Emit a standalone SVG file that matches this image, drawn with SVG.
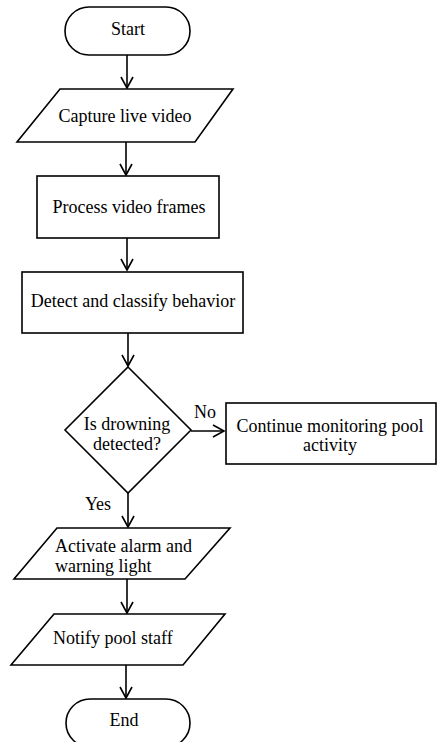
<svg xmlns="http://www.w3.org/2000/svg" width="437" height="742" viewBox="0 0 437 742">
  <style>
    .shape { fill: #ffffff; stroke: #000000; stroke-width: 1.6; }
    .edge { fill: none; stroke: #000000; stroke-width: 1.6; }
    .lbl { font-family: 'Liberation Serif', 'Times New Roman', 'DejaVu Serif', serif; font-size: 18px; fill: #000000; }
    .mid { text-anchor: middle; }
  </style>
  <defs>
    <marker id="arrow" viewBox="0 0 14 14" refX="12" refY="7" markerWidth="14" markerHeight="14" markerUnits="userSpaceOnUse" orient="auto">
      <path d="M1,1 L12,7 L1,13" fill="none" stroke="#000000" stroke-width="1.6"/>
    </marker>
  </defs>
  <rect width="437" height="742" fill="#ffffff"/>

  <g id="connectors">
    <line class="edge" x1="127" y1="55" x2="127" y2="88" marker-end="url(#arrow)"/>
    <line class="edge" x1="126" y1="142" x2="126" y2="175" marker-end="url(#arrow)"/>
    <line class="edge" x1="127" y1="238" x2="127" y2="270" marker-end="url(#arrow)"/>
    <line class="edge" x1="128" y1="333" x2="128" y2="366" marker-end="url(#arrow)"/>
    <line class="edge" x1="191" y1="431" x2="224" y2="431" marker-end="url(#arrow)"/>
    <line class="edge" x1="128" y1="493" x2="128" y2="527" marker-end="url(#arrow)"/>
    <line class="edge" x1="127" y1="579" x2="127" y2="613" marker-end="url(#arrow)"/>
    <line class="edge" x1="126" y1="665" x2="126" y2="698" marker-end="url(#arrow)"/>
    <text class="lbl mid" x="205" y="418">No</text>
    <text class="lbl mid" x="98" y="510">Yes</text>
  </g>

  <g id="start">
    <rect class="shape" x="65" y="7" width="125" height="48" rx="24" ry="24"/>
    <text class="lbl mid" x="128" y="35">Start</text>
  </g>

  <g id="capture">
    <polygon class="shape" points="60,89 233,89 195,142 17,142"/>
    <text class="lbl mid" x="125" y="122">Capture live video</text>
  </g>

  <g id="process">
    <rect class="shape" x="37" y="176" width="182" height="62"/>
    <text class="lbl mid" x="129" y="213">Process video frames</text>
  </g>

  <g id="detect">
    <rect class="shape" x="22" y="272" width="221" height="61"/>
    <text class="lbl mid" x="133" y="307">Detect and classify behavior</text>
  </g>

  <g id="decision">
    <polygon class="shape" points="128,367 191,430 128,493 65,430"/>
    <text class="lbl mid" x="127" y="430">Is drowning</text>
    <text class="lbl mid" x="127" y="450">detected?</text>
  </g>

  <g id="continue">
    <rect class="shape" x="226" y="403" width="210" height="61"/>
    <text class="lbl mid" x="330" y="432">Continue monitoring pool</text>
    <text class="lbl mid" x="330" y="451">activity</text>
  </g>

  <g id="alarm">
    <polygon class="shape" points="57,528 230,528 185,579 14,579"/>
    <text class="lbl" x="55" y="552">Activate alarm and</text>
    <text class="lbl" x="55" y="572">warning light</text>
  </g>

  <g id="notify">
    <polygon class="shape" points="54,614 225,614 183,665 11,665"/>
    <text class="lbl" x="53" y="644">Notify pool staff</text>
  </g>

  <g id="end">
    <rect class="shape" x="66" y="699" width="124" height="48" rx="24" ry="24"/>
    <text class="lbl mid" x="124" y="726">End</text>
  </g>
</svg>
